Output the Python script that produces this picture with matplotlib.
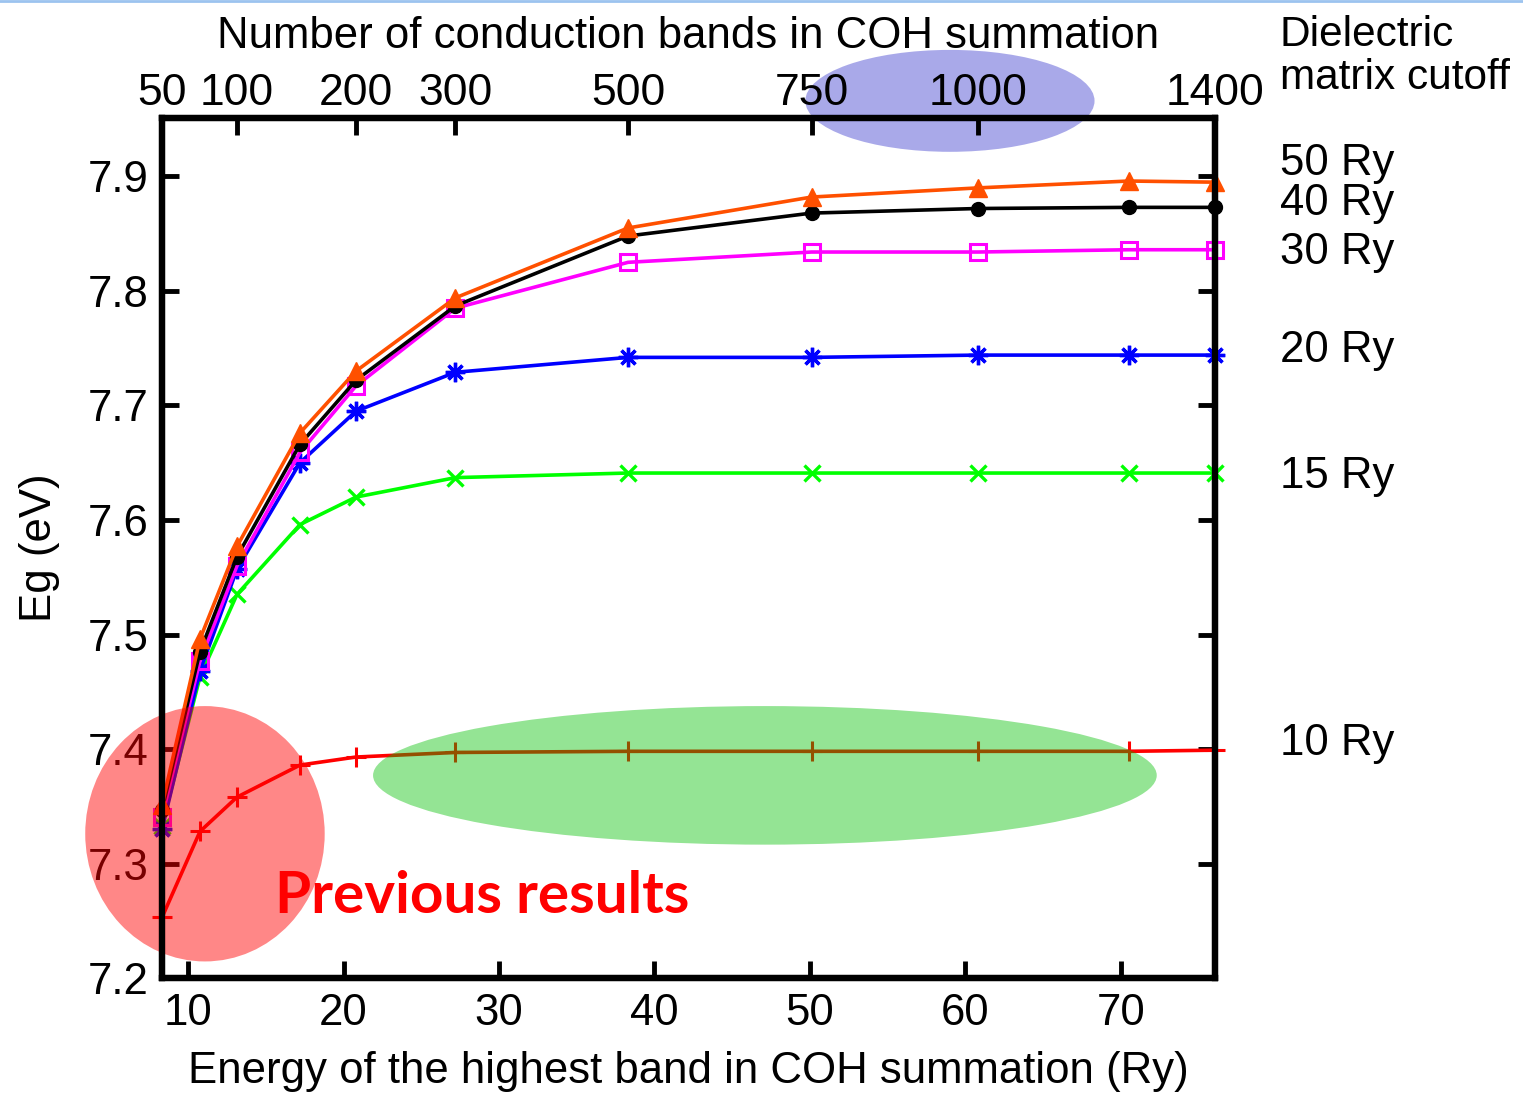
import matplotlib.pyplot as plt
from matplotlib.patches import Ellipse
from matplotlib.lines import Line2D
from matplotlib.transforms import blended_transform_factory

# energy of the highest band (Ry) and the matching number of bands
energy = [8.33, 10.77, 13.15, 17.2, 20.8, 27.2, 38.3, 50.1, 60.8, 70.5, 76.05]
band_ticks = [8.33, 13.15, 20.8, 27.2, 38.3, 50.1, 60.8, 76.05]
band_labels = ["50", "100", "200", "300", "500", "750", "1000", "1400"]

# band gap (eV) for each dielectric matrix cutoff
eg_10 = [7.253, 7.328, 7.358, 7.386, 7.393, 7.397, 7.398, 7.398, 7.398, 7.398, 7.399]
eg_15 = [7.333, 7.463, 7.535, 7.596, 7.620, 7.637, 7.641, 7.641, 7.641, 7.641, 7.641]
eg_20 = [7.330, 7.468, 7.557, 7.650, 7.695, 7.729, 7.742, 7.742, 7.744, 7.744, 7.744]
eg_30 = [7.341, 7.477, 7.560, 7.659, 7.717, 7.785, 7.825, 7.834, 7.834, 7.836, 7.836]
eg_40 = [7.347, 7.485, 7.568, 7.666, 7.722, 7.787, 7.848, 7.868, 7.872, 7.873, 7.873]
eg_50 = [7.351, 7.496, 7.577, 7.676, 7.730, 7.794, 7.855, 7.882, 7.890, 7.896, 7.895]

cutoff_labels = ["10 Ry", "15 Ry", "20 Ry", "30 Ry", "40 Ry", "50 Ry"]

SANS = ["Liberation Sans", "DejaVu Sans"]
NARROW = ["Liberation Sans Narrow", "Liberation Sans", "DejaVu Sans"]
FS = 31.5

plt.rcParams["font.family"] = SANS

fig = plt.figure(figsize=(15.23, 10.95), dpi=100)
ax = fig.add_axes([0.1064, 0.1068, 0.6914, 0.7854])

series = [
    (eg_10, "#ff0000", "+", dict(ms=15, mew=2.2)),
    (eg_15, "#00ff00", "x", dict(ms=12, mew=2.4)),
    (eg_20, "#0000ff", (8, 2, 0), dict(ms=14, mew=2.4)),
    (eg_30, "#ff00ff", "s", dict(ms=11, mew=2.2, mfc="none")),
    (eg_40, "#000000", "o", dict(ms=10)),
    (eg_50, "#ff5000", "^", dict(ms=13)),
]
for values, color, marker, style in series:
    ax.plot(energy, values, color=color, marker=marker, lw=2.6,
            clip_on=False, zorder=3, **style)

ax.set_xlim(energy[0], energy[-1])
ax.set_ylim(7.2, 7.951)
ax.set_xticks([10, 20, 30, 40, 50, 60, 70])
ax.set_yticks([7.2, 7.3, 7.4, 7.5, 7.6, 7.7, 7.8, 7.9])
ax.tick_params(axis="both", direction="in", length=12, width=3.5,
               labelsize=FS, pad=11, right=True, top=False)
ax.tick_params(axis="y", pad=10)
for spine in ax.spines.values():
    spine.set_linewidth(4.5)
ax.set_xlabel("Energy of the highest band in COH summation (Ry)",
              fontsize=FS, labelpad=12)
ax.set_ylabel("Eg (eV)", fontsize=FS)
ax.yaxis.set_label_coords(-0.097, 0.5)

# number of bands on the top axis
top = ax.twiny()
top.set_xlim(ax.get_xlim())
top.set_xticks(band_ticks)
top.set_xticklabels(band_labels, fontfamily=NARROW)
top.tick_params(axis="x", direction="in", length=12, width=3.5,
                labelsize=32, pad=3)
for spine in top.spines.values():
    spine.set_linewidth(4.5)
top.set_xlabel("Number of conduction bands in COH summation",
               fontsize=31.5, fontfamily=NARROW, labelpad=18)

# cutoff labels to the right of the curves
label_y = [7.405, 7.638, 7.748, 7.834, 7.876, 7.911]
trans = blended_transform_factory(ax.transAxes, ax.transData)
for text, y in zip(cutoff_labels, label_y):
    ax.text(1.062, y, text, transform=trans, fontsize=FS,
            va="center", ha="left", clip_on=False)
fig.text(0.8404, 0.948, "Dielectric\nmatrix cutoff", fontsize=30.5,
         fontfamily=NARROW, va="center", ha="left", linespacing=1.1)

# highlight shapes
ax.add_patch(Ellipse((59.0, 7.966), 18.6, 0.089, color=(0.2, 0.2, 0.8),
                     alpha=0.42, lw=0, clip_on=False, zorder=5))
ax.add_patch(Ellipse((47.1, 7.377), 50.4, 0.121, color=(0.0, 0.75, 0.0),
                     alpha=0.42, lw=0, clip_on=False, zorder=5))
ax.add_patch(Ellipse((11.09, 7.326), 15.4, 0.223, color=(1.0, 0.0, 0.0),
                     alpha=0.47, lw=0, clip_on=False, zorder=5))
ax.text(15.6, 7.271, "Previous results", color="#ff0000", fontsize=42,
        fontweight="bold", fontfamily=["Lato", "DejaVu Sans"],
        va="center", ha="left", zorder=6)

fig.add_artist(Line2D([0, 1], [0.999, 0.999], color="#9cc3ef", lw=2,
                      transform=fig.transFigure))

fig.savefig("out.png", dpi=100)
